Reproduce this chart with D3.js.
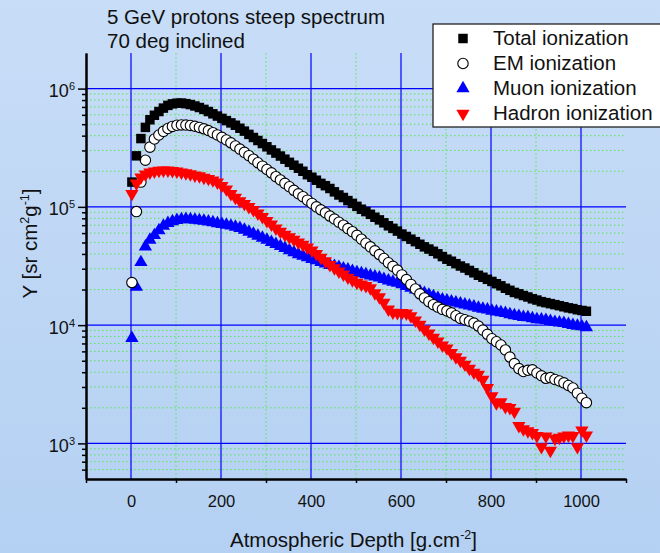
<!DOCTYPE html>
<html>
<head>
<meta charset="utf-8">
<script src="https://cdn.jsdelivr.net/npm/d3@7"></script>
<style>
  html, body { margin: 0; padding: 0; }
  body { width: 660px; height: 553px; overflow: hidden; }
  svg { display: block; font-family: "Liberation Sans", Arial, sans-serif; }
</style>
</head>
<body>
<div id="chart"></div>
<script>
// Atmospheric depth [g/cm2] of each sample
const depth = [2, 12, 22, 32, 42, 52, 62, 72, 82, 92, 102, 112, 122, 132, 142, 152, 162, 172, 182, 192,
  202, 212, 222, 232, 242, 252, 262, 272, 282, 292, 302, 312, 322, 332, 342, 352, 362, 372, 382, 392,
  402, 412, 422, 432, 442, 452, 462, 472, 482, 492, 502, 512, 522, 532, 542, 552, 562, 572, 582, 592,
  602, 612, 622, 632, 642, 652, 662, 672, 682, 692, 702, 712, 722, 732, 742, 752, 762, 772, 782, 792,
  802, 812, 822, 832, 842, 852, 862, 872, 882, 892, 902, 912, 922, 932, 942, 952, 962, 972, 982, 992,
  1002, 1012];

const totalIon = [162000, 270000, 378000, 470000, 545000, 595000, 640000, 684000, 721000, 743000,
  753000, 755000, 746000, 733000, 713000, 692000, 667000, 640000, 612000, 586000,
  560000, 536000, 513000, 490000, 462000, 437000, 410000, 386000, 364000, 343000,
  322000, 303000, 285000, 269000, 253000, 238000, 225000, 212000, 200000, 187000,
  178000, 168000, 158000, 151000, 143000, 134000, 126000, 120000, 113000, 107000,
  101000, 95500, 91200, 86500, 81700, 77600, 73300, 69200, 65800, 62400,
  58900, 56200, 53300, 50800, 48300, 45900, 44000, 42100, 40100, 38000,
  36100, 34700, 33100, 31600, 30400, 29000, 27700, 26400, 25400, 24400,
  23400, 22400, 21500, 20500, 19700, 18900, 18400, 17800, 17300, 16700,
  16300, 15800, 15500, 15200, 14900, 14600, 14300, 14000, 13800, 13500,
  13300, 13100];

const emIon = [22900, 91200, 162000, 248000, 320000, 375000, 405000, 435000, 460000, 479000,
  490000, 493000, 492000, 488000, 480000, 470000, 457000, 442000, 424000, 406000,
  387000, 368000, 348000, 327000, 308000, 289000, 271000, 253000, 236000, 221000,
  207000, 194000, 180000, 169000, 158000, 148000, 138000, 129000, 122000, 114000,
  107000, 100000, 94400, 89100, 83600, 78900, 74100, 70000, 65500, 61700,
  57500, 53300, 49300, 45900, 42500, 39500, 36600, 33700, 31400, 29200,
  26600, 24300, 22100, 20200, 18400, 17000, 15800, 14900, 14200, 13600,
  13200, 12700, 12000, 11400, 11100, 10800, 10400, 9820, 9080, 8360,
  7670, 7240, 6790, 6170, 5370, 4730, 4290, 4050, 4150, 4190,
  3940, 3730, 3550, 3600, 3470, 3370, 3250, 3090, 2940, 2660,
  2410, 2210];

const muonIon = [7760, 21000, 34000, 46000, 52500, 57500, 63100, 68900, 72800, 75300,
  77300, 78300, 78700, 78300, 77600, 76900, 76000, 75000, 73800, 72600,
  71400, 70300, 69200, 67600, 66100, 63800, 61400, 59000, 56800, 54600,
  52500, 50400, 48300, 46500, 44700, 42900, 41200, 39600, 38500, 37300,
  36200, 35200, 34100, 33100, 32200, 31600, 30900, 30100, 29400, 28600,
  27900, 27400, 26800, 26200, 25700, 25200, 24500, 23800, 23200, 22700,
  22100, 21400, 20600, 19900, 19300, 18600, 18000, 17500, 16900, 16400,
  16100, 15800, 15500, 15200, 14900, 14600, 14300, 14000, 13700, 13500,
  13200, 13000, 12800, 12600, 12300, 12100, 11900, 11700, 11600, 11400,
  11200, 11100, 11000, 10800, 10600, 10500, 10400, 10200, 10000, 9860,
  9730, 9550];

const hadronIon = [129000, 158000, 178000, 188000, 196000, 200000, 203000, 204000, 204000, 202000,
  200000, 196000, 193000, 189000, 185000, 182000, 177000, 173000, 168000, 161000,
  151000, 141000, 129000, 120000, 112000, 106000, 100000, 94400, 88100, 82200,
  76200, 71100, 65800, 61700, 58200, 55600, 52800, 50100, 47900, 45400,
  42900, 40000, 37300, 34800, 32400, 30300, 28500, 26900, 25300, 24000,
  22900, 22100, 21500, 20600, 18700, 17300, 15500, 13600, 12800, 12700,
  12700, 12600, 11900, 11000, 10100, 9230, 8510, 7850, 7280, 6760,
  6380, 5820, 5370, 5010, 4650, 4300, 3980, 3820, 3470, 2950,
  2510, 2190, 2240, 2040, 2000, 1860, 1410, 1320, 1270, 1230,
  1160, 933, 1150, 871, 1100, 1120, 1150, 1170, 1160, 933,
  1290, 1170];

const seriesNames = ["Total ionization", "EM ionization", "Muon ionization", "Hadron ionization"];
const xMajorTicks = [0, 200, 400, 600, 800, 1000];
const xMinorTicks = [-100, 100, 300, 500, 700, 900, 1100];
const yDecades = [1e3, 1e4, 1e5, 1e6];
const titleLines = ["5 GeV protons steep spectrum", "70 deg inclined"];

const svgWidth = 660;
const svgHeight = 553;
const margin = { top: 53, right: 34, bottom: 74, left: 86 };
const width = svgWidth - margin.left - margin.right;
const height = svgHeight - margin.top - margin.bottom;

const svg = d3.select("#chart").append("svg")
  .attr("width", svgWidth)
  .attr("height", svgHeight);

// background gradient
const grad = svg.append("defs").append("linearGradient")
  .attr("id", "bg").attr("x1", 0).attr("y1", 0).attr("x2", 0).attr("y2", 1);
grad.append("stop").attr("offset", "0%").attr("stop-color", "#c8ddf7");
grad.append("stop").attr("offset", "100%").attr("stop-color", "#b4d0f2");
svg.append("rect").attr("width", svgWidth).attr("height", svgHeight).attr("fill", "url(#bg)");

const chartGroup = svg.append("g")
  .attr("transform", `translate(${margin.left}, ${margin.top})`);

const x = d3.scaleLinear().domain([-100, 1100]).range([0, width]);
const y = d3.scaleLog().domain([500, 2e6]).range([height, 0]);

const yMinor = y.ticks().filter(v => v > 500 && v < 2e6 && !yDecades.includes(v));

// minor grid (green dotted)
const grid = chartGroup.append("g");
grid.selectAll(".hminor").data(yMinor).enter().append("line")
  .attr("x1", 0).attr("x2", width)
  .attr("y1", d => y(d)).attr("y2", d => y(d))
  .attr("stroke", "#55e855").attr("stroke-width", 1).attr("stroke-dasharray", "1.5,2.5");
grid.selectAll(".vminor").data(xMinorTicks.filter(v => v > -100 && v < 1100)).enter().append("line")
  .attr("x1", d => x(d)).attr("x2", d => x(d))
  .attr("y1", 0).attr("y2", height)
  .attr("stroke", "#55e855").attr("stroke-width", 1).attr("stroke-dasharray", "1.5,2.5");

// major grid (blue)
grid.selectAll(".hmajor").data(yDecades).enter().append("line")
  .attr("x1", 0).attr("x2", width)
  .attr("y1", d => y(d)).attr("y2", d => y(d))
  .attr("stroke", "#0000ff").attr("stroke-width", 1.2);
grid.selectAll(".vmajor").data(xMajorTicks).enter().append("line")
  .attr("x1", d => x(d)).attr("x2", d => x(d))
  .attr("y1", 0).attr("y2", height)
  .attr("stroke", "#0000ff").attr("stroke-width", 1.2);

// axes
const leftMinor = chartGroup.append("g")
  .call(d3.axisLeft(y).tickValues(yMinor).tickSize(4).tickSizeOuter(0).tickFormat(""));
const leftMajor = chartGroup.append("g")
  .call(d3.axisLeft(y).tickValues(yDecades).tickSize(8).tickSizeOuter(0).tickPadding(3));
leftMajor.selectAll(".tick text")
  .attr("font-size", 18).attr("font-family", null).attr("fill", "#111").attr("dy", "0.45em")
  .each(function(d) {
    const t = d3.select(this);
    t.text("10");
    t.append("tspan").attr("dy", -7).attr("font-size", 11).text(Math.round(Math.log10(d)));
  });

const bottomMinor = chartGroup.append("g")
  .attr("transform", `translate(0, ${height})`)
  .call(d3.axisBottom(x).tickValues(xMinorTicks).tickSize(4).tickSizeOuter(0).tickFormat(""));
const bottomMajor = chartGroup.append("g")
  .attr("transform", `translate(0, ${height})`)
  .call(d3.axisBottom(x).tickValues(xMajorTicks).tickSize(0).tickSizeOuter(0)
    .tickPadding(16).tickFormat(d3.format("d")));
bottomMajor.selectAll(".tick text")
  .attr("font-size", 16.5).attr("font-family", null).attr("fill", "#111");

[leftMinor, leftMajor, bottomMinor, bottomMajor].forEach(g => {
  g.select(".domain").attr("stroke", "#000").attr("stroke-width", 2);
  g.selectAll(".tick line").attr("stroke", "#000").attr("stroke-width", 1.5);
});

// markers
const sym = d3.symbol();
const triSize = 76;

const muonG = chartGroup.append("g");
muonG.selectAll("path").data(depth).enter().append("path")
  .attr("transform", (d, i) => `translate(${x(d)}, ${y(muonIon[i])})`)
  .attr("d", sym.type(d3.symbolTriangle).size(triSize)())
  .attr("fill", "#0000ff");

const emG = chartGroup.append("g");
emG.selectAll("path").data(depth).enter().append("path")
  .attr("transform", (d, i) => `translate(${x(d)}, ${y(emIon[i])})`)
  .attr("d", sym.type(d3.symbolCircle).size(85)())
  .attr("fill", "#fff").attr("stroke", "#000").attr("stroke-width", 1.1);

const totalG = chartGroup.append("g");
totalG.selectAll("path").data(depth).enter().append("path")
  .attr("transform", (d, i) => `translate(${x(d)}, ${y(totalIon[i])})`)
  .attr("d", sym.type(d3.symbolSquare).size(90)())
  .attr("fill", "#000");

const hadronG = chartGroup.append("g");
hadronG.selectAll("path").data(depth).enter().append("path")
  .attr("transform", (d, i) => `translate(${x(d)}, ${y(hadronIon[i])}) rotate(180)`)
  .attr("d", sym.type(d3.symbolTriangle).size(triSize)())
  .attr("fill", "#ff0000");

// title
svg.selectAll(".title").data(titleLines).enter().append("text")
  .attr("x", 107).attr("y", (d, i) => 24 + i * 24)
  .attr("font-size", 20.5).attr("fill", "#111")
  .text(d => d);

// legend
const legend = svg.append("g");
legend.append("rect")
  .attr("x", 433).attr("y", 24).attr("width", 260).attr("height", 103)
  .attr("fill", "#fff").attr("stroke", "#222").attr("stroke-width", 1.3);
const legendStyles = [
  { type: d3.symbolSquare, size: 90, fill: "#000", stroke: "none", rot: 0 },
  { type: d3.symbolCircle, size: 85, fill: "#fff", stroke: "#000", rot: 0 },
  { type: d3.symbolTriangle, size: triSize, fill: "#0000ff", stroke: "none", rot: 0 },
  { type: d3.symbolTriangle, size: triSize, fill: "#ff0000", stroke: "none", rot: 180 }
];
seriesNames.forEach((name, i) => {
  const s = legendStyles[i];
  const cy = 38.5 + i * 25;
  legend.append("path")
    .attr("transform", `translate(463, ${cy}) rotate(${s.rot})`)
    .attr("d", d3.symbol().type(s.type).size(s.size)())
    .attr("fill", s.fill).attr("stroke", s.stroke).attr("stroke-width", 1.1);
  legend.append("text")
    .attr("x", 493).attr("y", 45 + i * 25)
    .attr("font-size", 20.5).attr("fill", "#111")
    .text(name);
});

// axis titles
const xTitle = svg.append("text")
  .attr("x", 230).attr("y", 546.5)
  .attr("font-size", 20.5).attr("fill", "#111");
xTitle.append("tspan").text("Atmospheric Depth [g.cm");
xTitle.append("tspan").attr("dy", -8).attr("font-size", 12.5).text("-2");
xTitle.append("tspan").attr("dy", 8).text("]");

const yTitle = svg.append("text")
  .attr("transform", "translate(37, 243.5) rotate(-90)")
  .attr("text-anchor", "middle")
  .attr("font-size", 20.5).attr("fill", "#111");
yTitle.append("tspan").text("Y [sr cm");
yTitle.append("tspan").attr("dy", -8).attr("font-size", 12.5).text("2");
yTitle.append("tspan").attr("dy", 8).text("g");
yTitle.append("tspan").attr("dy", -8).attr("font-size", 12.5).text("-1");
yTitle.append("tspan").attr("dy", 8).text("]");
</script>
</body>
</html>
